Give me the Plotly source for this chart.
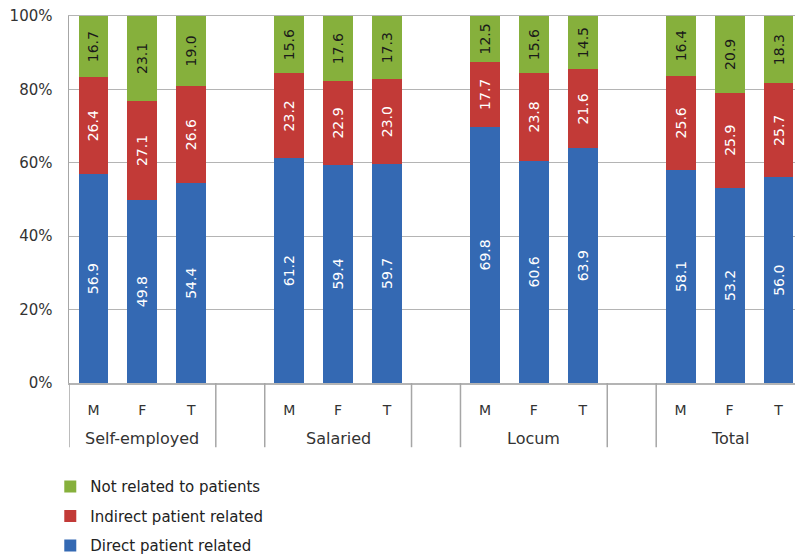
import plotly.graph_objects as go

groups = ["Self-employed", "Salaried", "Locum", "Total"]
sexes = ["M", "F", "T"]
direct = [56.9, 49.8, 54.4, 61.2, 59.4, 59.7, 69.8, 60.6, 63.9, 58.1, 53.2, 56.0]
indirect = [26.4, 27.1, 26.6, 23.2, 22.9, 23.0, 17.7, 23.8, 21.6, 25.6, 25.9, 25.7]
notrel = [16.7, 23.1, 19.0, 15.6, 17.6, 17.3, 12.5, 15.6, 14.5, 16.4, 20.9, 18.3]
y_ticks = [0, 20, 40, 60, 80, 100]

FONT = "DejaVu Sans"
# slot positions: 3 bars per group, one empty slot between groups
xs, ticktext = [], []
for gi, g in enumerate(groups):
    for si, s in enumerate(sexes):
        xs.append(gi * 4 + si)
        ticktext.append(s)

fig = go.Figure()
series = [
    ("Direct patient related", direct, "#3469b3", "white", 3),
    ("Indirect patient related", indirect, "#c23a37", "white", 2),
    ("Not related to patients", notrel, "#86b03c", "#1a1a1a", 1),
]
for name, vals, col, tcol, rank in series:
    fig.add_trace(go.Bar(
        x=xs, y=vals, name=name, marker=dict(color=col, line=dict(width=0)),
        width=0.61, text=[f"{v:.1f}" for v in vals], textposition="inside",
        insidetextanchor="middle", textangle=-90, constraintext="none",
        textfont=dict(family=FONT, size=14, color=tcol),
        legendgroup=name, legendrank=rank, hoverinfo="skip",
    ))

# divider positions below the axis
div_x = [-0.5]
for gi in range(1, len(groups)):
    div_x += [gi * 4 - 1.5, gi * 4 - 0.5]
shapes = [dict(type="line", xref="x", yref="paper", x0=xb, x1=xb, y0=0, y1=-0.175,
               line=dict(color="#a6a6a6", width=1.5)) for xb in div_x]
annotations = [dict(x=gi * 4 + 1, xref="x", y=-0.15, yref="paper", text=g, showarrow=False,
                    yanchor="middle", font=dict(family=FONT, size=16, color="#333333"))
               for gi, g in enumerate(groups)]

fig.update_layout(
    width=803, height=575,
    margin=dict(l=69, r=0, t=16, b=192),
    paper_bgcolor="white", plot_bgcolor="white",
    barmode="stack", bargap=0,
    font=dict(family=FONT, size=13, color="#333333"),
    shapes=shapes, annotations=annotations,
    showlegend=True,
    legend=dict(x=-0.0255, y=-0.238, xanchor="left", yanchor="top", traceorder="grouped",
                tracegroupgap=7, font=dict(family=FONT, size=15, color="#222222"),
                itemwidth=30, bgcolor="rgba(0,0,0,0)"),
    xaxis=dict(range=[-0.5, 14.5], tickvals=xs, ticktext=ticktext, showgrid=False,
               showline=True, mirror=True, linecolor="#b4b4b4", linewidth=1.5, ticks="",
               ticklabelstandoff=14, tickfont=dict(family=FONT, size=14, color="#333333"),
               zeroline=False, fixedrange=True),
    yaxis=dict(range=[0, 100], tickvals=y_ticks, ticktext=[f"{v}%" for v in y_ticks], showgrid=True,
               gridcolor="#b4b4b4", gridwidth=1.2, showline=True, linecolor="#a6a6a6", linewidth=1.5,
               ticks="", tickfont=dict(family=FONT, size=15, color="#333333"), zeroline=False,
               ticklabelstandoff=12, fixedrange=True),
)
fig.write_html("out.html", config={"displayModeBar": False, "staticPlot": True},
               post_script="document.body.style.margin='0';document.body.style.overflow='hidden';")
